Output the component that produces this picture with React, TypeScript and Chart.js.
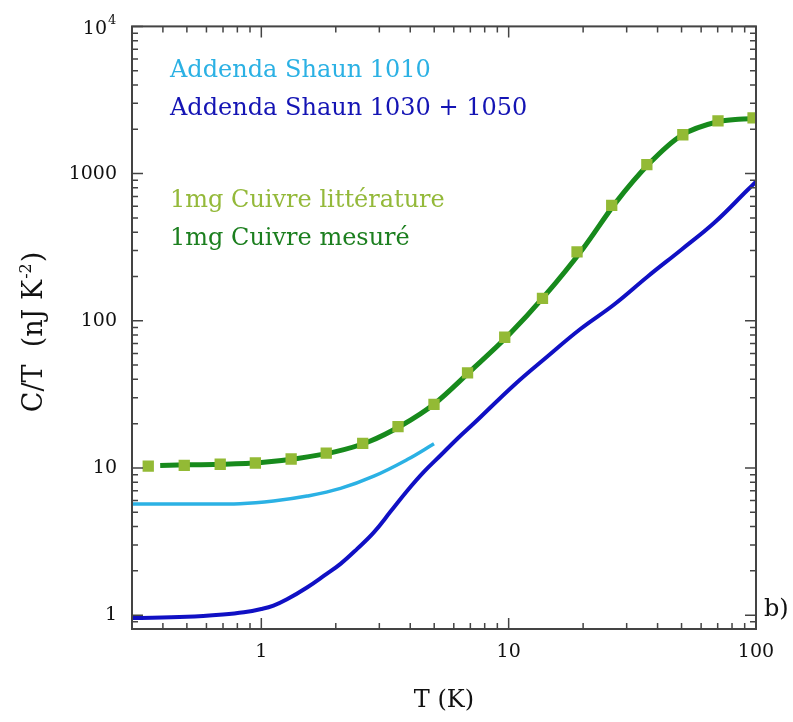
import React, { useEffect, useRef } from 'react';
import { Chart, registerables } from 'chart.js';

Chart.register(...registerables);

// Copper literature (squares)
const litT = [0.349, 0.488, 0.682, 0.946, 1.32, 1.83, 2.57, 3.57, 4.99, 6.82, 9.64, 13.7, 18.9, 26.1, 36.2, 50.6, 70.2, 97.3];
const litC = [10.3, 10.4, 10.6, 10.8, 11.5, 12.6, 14.7, 19.1, 27.0, 44.2, 77.3, 142, 294, 609, 1152, 1836, 2280, 2390];

// Copper measured (dark green line)
const mesT = [0.39, 0.5, 0.7, 1.0, 1.4, 2.0, 2.7, 3.7, 5.0, 7.0, 10, 14, 20, 27, 37, 50, 70, 85, 100];
const mesC = [10.4, 10.5, 10.6, 10.9, 11.6, 12.9, 15.0, 19.5, 27.2, 45.5, 80, 148, 310, 630, 1170, 1820, 2250, 2340, 2360];

// Addenda Shaun 1010 (cyan)
const add1010T = [0.3, 0.5, 0.82, 1.12, 1.53, 2.09, 2.85, 3.89, 4.99];
const add1010C = [5.69, 5.69, 5.72, 5.96, 6.44, 7.26, 8.79, 11.4, 14.6];

// Addenda Shaun 1030 + 1050 (blue)
const add1030T = [0.3, 0.5, 0.7, 0.85, 1.0, 1.12, 1.27, 1.53, 1.8, 2.09, 2.44, 2.85, 3.33, 3.89, 4.54, 5.31, 6.2, 7.24, 10.5, 14.3, 19.5, 26.7, 36.5, 49.9, 67.8, 92.4, 100];
const add1030C = [0.955, 0.975, 1.01, 1.045, 1.1, 1.16, 1.28, 1.54, 1.86, 2.23, 2.82, 3.65, 5.05, 7.0, 9.4, 12.2, 15.8, 20.1, 36.5, 57, 87.9, 129, 200, 304, 463, 773, 881];

const xMin = 0.3;
const xMax = 100;
const yMin = 0.805;
const yMax = 10000;

const legendItems = [
  { text: 'Addenda Shaun 1010', color: '#2bb1e4' },
  { text: 'Addenda Shaun 1030 + 1050', color: '#1414b4' },
  { text: '1mg Cuivre littérature', color: '#94b93a' },
  { text: '1mg Cuivre mesuré', color: '#1c7f1f' },
];

const FONT = "'DejaVu Serif', serif";

const isPow10 = (v: number) => {
  const l = Math.log10(v);
  return Math.abs(l - Math.round(l)) < 1e-9;
};

const toXY = (xs: number[], ys: number[]) => xs.map((x, i) => ({ x, y: ys[i] }));

function drawLogTicks(ctx: CanvasRenderingContext2D, scale: any, horizontal: boolean, area: any) {
  const min = scale.min;
  const max = scale.max;
  const e0 = Math.floor(Math.log10(min));
  const e1 = Math.ceil(Math.log10(max));
  for (let e = e0; e <= e1; e++) {
    for (let m = 1; m <= 9; m++) {
      const v = m * Math.pow(10, e);
      if (v < min * 0.9999 || v > max * 1.0001) continue;
      const p = scale.getPixelForValue(v);
      const len = m === 1 ? 11 : 6;
      ctx.beginPath();
      if (horizontal) {
        ctx.moveTo(p, area.bottom);
        ctx.lineTo(p, area.bottom - len);
        ctx.moveTo(p, area.top);
        ctx.lineTo(p, area.top + len);
      } else {
        ctx.moveTo(area.left, p);
        ctx.lineTo(area.left + len, p);
        ctx.moveTo(area.right, p);
        ctx.lineTo(area.right - len, p);
      }
      ctx.stroke();
    }
  }
}

const decorPlugin = {
  id: 'decor',
  afterDraw(chart: any) {
    const ctx: CanvasRenderingContext2D = chart.ctx;
    const area = chart.chartArea;
    const xs = chart.scales.x;
    const ys = chart.scales.y;
    ctx.save();
    // frame
    ctx.strokeStyle = '#444';
    ctx.lineWidth = 2;
    ctx.strokeRect(area.left, area.top, area.right - area.left, area.bottom - area.top);
    ctx.lineWidth = 1.5;
    drawLogTicks(ctx, xs, true, area);
    drawLogTicks(ctx, ys, false, area);

    // 10^4 label
    const p4 = ys.getPixelForValue(10000);
    ctx.fillStyle = '#111';
    ctx.font = `19px ${FONT}`;
    ctx.textAlign = 'right';
    ctx.textBaseline = 'middle';
    ctx.fillText('10', 107, p4 + 3);
    ctx.font = `13px ${FONT}`;
    ctx.textAlign = 'left';
    ctx.fillText('4', 108, p4 - 6);

    // legend texts
    ctx.font = `24px ${FONT}`;
    ctx.textAlign = 'left';
    ctx.textBaseline = 'alphabetic';
    const baselines = [77, 115, 207, 245];
    legendItems.forEach((it, i) => {
      ctx.fillStyle = it.color;
      ctx.fillText(it.text, 170, baselines[i]);
    });

    // b)
    ctx.fillStyle = '#111';
    ctx.font = `24px ${FONT}`;
    ctx.fillText('b)', 764, 616);

    // y title with superscript
    ctx.save();
    ctx.translate(42, 332);
    ctx.rotate(-Math.PI / 2);
    const main = 'C/T  (nJ K';
    const sup = '-2';
    const close = ')';
    ctx.font = `27px ${FONT}`;
    const w1 = ctx.measureText(main).width;
    const w3 = ctx.measureText(close).width;
    ctx.font = `16px ${FONT}`;
    const w2 = ctx.measureText(sup).width;
    const total = w1 + w2 + w3 + 2;
    let x = -total / 2;
    ctx.textAlign = 'left';
    ctx.textBaseline = 'alphabetic';
    ctx.fillStyle = '#111';
    ctx.font = `27px ${FONT}`;
    ctx.fillText(main, x, 0);
    x += w1 + 1;
    ctx.font = `16px ${FONT}`;
    ctx.fillText(sup, x, -11);
    x += w2 + 1;
    ctx.font = `27px ${FONT}`;
    ctx.fillText(close, x, 0);
    ctx.restore();

    ctx.restore();
  },
};

export default function App() {
  const ref = useRef<HTMLCanvasElement | null>(null);

  useEffect(() => {
    document.body.style.margin = '0';
    if (!ref.current) return;
    const chart = new Chart(ref.current, {
      type: 'line',
      data: {
        datasets: [
          {
            label: '1mg Cuivre littérature',
            data: toXY(litT, litC),
            showLine: false,
            pointStyle: 'rect',
            pointRadius: 8,
            pointBackgroundColor: '#93ba35',
            pointBorderWidth: 0,
            borderColor: '#93ba35',
            backgroundColor: '#93ba35',
          },
          {
            label: '1mg Cuivre mesuré',
            data: toXY(mesT, mesC),
            borderColor: '#178a1c',
            borderWidth: 5,
            pointRadius: 0,
            cubicInterpolationMode: 'monotone',
            fill: false,
          },
          {
            label: 'Addenda Shaun 1010',
            data: toXY(add1010T, add1010C),
            borderColor: '#2bb1e4',
            borderWidth: 3.5,
            pointRadius: 0,
            tension: 0.4,
            fill: false,
          },
          {
            label: 'Addenda Shaun 1030 + 1050',
            data: toXY(add1030T, add1030C),
            borderColor: '#1010c4',
            borderWidth: 4,
            pointRadius: 0,
            tension: 0.4,
            fill: false,
          },
        ],
      },
      options: {
        responsive: false,
        animation: false,
        layout: { padding: { left: 0, top: 22, right: 37, bottom: 0 } },
        plugins: {
          legend: { display: false },
          tooltip: { enabled: false },
        },
        scales: {
          x: {
            type: 'logarithmic',
            min: xMin,
            max: xMax,
            grid: { display: false, drawTicks: false },
            border: { display: false },
            afterFit: (s: any) => {
              s.height = 93;
            },
            ticks: {
              autoSkip: false,
              maxRotation: 0,
              padding: 12,
              color: '#111',
              font: { family: FONT, size: 19 },
              callback: (v: any) => (isPow10(Number(v)) ? String(Number(v)) : ''),
            },
            title: {
              display: true,
              text: 'T (K)',
              color: '#111',
              font: { family: FONT, size: 24 },
              padding: { top: 0, bottom: 7 },
            },
          },
          y: {
            type: 'logarithmic',
            min: yMin,
            max: yMax,
            grid: { display: false, drawTicks: false },
            border: { display: false },
            afterFit: (s: any) => {
              s.width = 132;
            },
            ticks: {
              autoSkip: false,
              padding: 15,
              color: '#111',
              font: { family: FONT, size: 19 },
              callback: (v: any) => {
                const n = Number(v);
                if (!isPow10(n) || n >= 10000) return '';
                return String(n);
              },
            },
          },
        },
      },
      plugins: [decorPlugin],
    } as any);
    return () => chart.destroy();
  }, []);

  return <canvas ref={ref} width={793} height={722} style={{ display: 'block' }} />;
}
